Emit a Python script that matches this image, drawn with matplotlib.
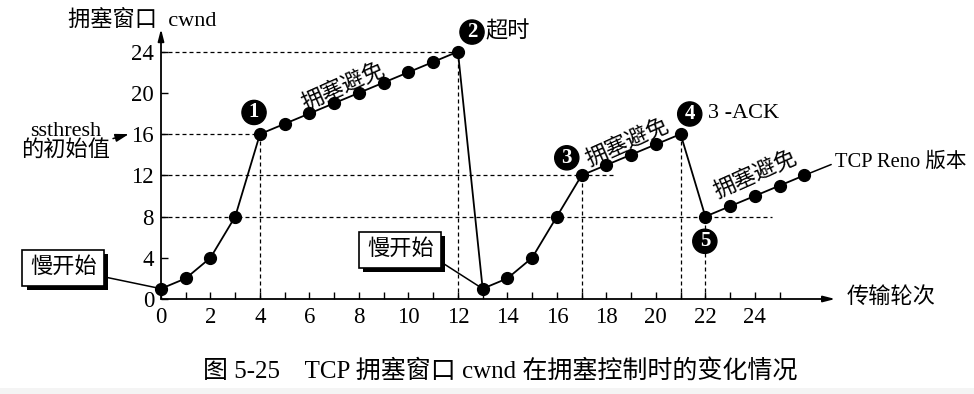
import matplotlib
matplotlib.use("Agg")
import matplotlib.pyplot as plt
import matplotlib.patheffects as pe

plt.rcParams['font.family'] = ['Liberation Serif', 'Noto Sans CJK SC', 'DejaVu Sans']

# ---- data ----
rounds = list(range(27))
cwnd = [1, 2, 4, 8, 16, 17, 18, 19, 20, 21, 22, 23, 24,
        1, 2, 4, 8, 12, 13, 14, 15, 16,
        8, 9, 10, 11, 12]
xtick_vals = list(range(0, 26))
xtick_labels = [str(v) if v % 2 == 0 and v <= 24 else "" for v in xtick_vals]
ytick_vals = [0, 4, 8, 12, 16, 20, 24]
ytick_labels = [str(v) for v in ytick_vals]

# guide lines: (value, x_start, x_end)
h_guides = [(24, 0, 12), (16, 0, 4), (12, 0, 18.3), (8, 0, 24.7)]
# vertical guides at rounds (index into data)
v_guides = [4, 12, 17, 21, 22]

fig = plt.figure(figsize=(9.74, 3.94), dpi=100)
W, H = 974, 394
ax = fig.add_axes([161 / W, 95 / H, 673 / W, 269 / H])
ax.set_xlim(0, 27.2)
ax.set_ylim(0, 26.1)
for s in ax.spines.values():
    s.set_visible(False)

dash = (0, (3.2, 2.4))
for y, x0, x1 in h_guides:
    ax.plot([x0, x1], [y, y], color='black', lw=0.9, linestyle=dash, zorder=1)
for r in v_guides:
    ax.plot([r, r], [0, cwnd[r]], color='black', lw=0.9, linestyle=dash, zorder=1)

# axes with arrows
ax.annotate('', xy=(27.25, 0), xytext=(0, 0), annotation_clip=False,
            arrowprops=dict(arrowstyle='-|>,head_length=0.7,head_width=0.18',
                            color='black', lw=1.3, shrinkA=0, shrinkB=0))
ax.annotate('', xy=(0, 26.2), xytext=(0, 0), annotation_clip=False,
            arrowprops=dict(arrowstyle='-|>,head_length=0.7,head_width=0.18',
                            color='black', lw=1.3, shrinkA=0, shrinkB=0))

# main line
ax.plot(rounds, cwnd, color='black', lw=1.3, marker='o', markersize=8.5,
        clip_on=False, zorder=3)

ax.set_xticks(xtick_vals)
ax.set_xticklabels(xtick_labels)
ax.set_yticks(ytick_vals)
ax.set_yticklabels(ytick_labels)
ax.tick_params(axis='x', direction='in', length=5, width=1, pad=6, labelsize=16.5)
ax.tick_params(axis='y', direction='in', length=5, width=1, pad=5, labelsize=16.5)

FS = 16

# axis titles
ax.text(-0.75, 27.0, '拥塞窗口  cwnd', ha='center', va='center', fontsize=FS, clip_on=False)
ax.text(27.7, 0.1, '传输轮次', ha='left', va='center', fontsize=FS, clip_on=False)

# ssthresh annotation
ax.annotate('ssthresh\n的初始值', xy=(-1.3, 16), xytext=(-3.85, 15.3),
            ha='center', va='center', fontsize=FS, linespacing=0.95,
            annotation_clip=False,
            arrowprops=dict(arrowstyle='-|>,head_length=0.5,head_width=0.15',
                            color='black', lw=1.1, relpos=(1.0, 0.55),
                            shrinkA=0, shrinkB=0))


def slow_box(tx, ty, px, py):
    ann = ax.annotate('慢开始', xy=(px, py), xytext=(tx, ty), ha='center', va='center',
                      fontsize=FS, annotation_clip=False, zorder=5,
                      bbox=dict(boxstyle='square,pad=0.34', fc='white', ec='black', lw=1.2),
                      arrowprops=dict(arrowstyle='-', color='black', lw=1.1,
                                      relpos=(1.0, 0.15), shrinkA=0, shrinkB=3))
    ann.get_bbox_patch().set_path_effects(
        [pe.SimplePatchShadow(offset=(3, -3), shadow_rgbFace='black', alpha=1.0),
         pe.Normal()])


slow_box(-3.95, 3.0, rounds[0], cwnd[0])
slow_box(9.67, 4.75, rounds[13], cwnd[13])


def circ(x, y, s):
    ax.text(x, y, s, ha='center', va='center', fontsize=15, color='white',
            fontweight='bold', clip_on=False, zorder=6,
            bbox=dict(boxstyle='circle,pad=0.1', fc='black', ec='black'))


circ(3.76, 18.1, '1')
circ(12.57, 25.9, '2')
circ(16.4, 13.7, '3')
circ(21.37, 17.95, '4')
circ(21.98, 5.6, '5')

ax.text(13.1, 25.9, '超时', ha='left', va='center', fontsize=FS, clip_on=False)
ax.text(22.1, 17.95, '3 -ACK', ha='left', va='center', fontsize=FS, clip_on=False)

ax.text(7.4, 20.5, '拥塞避免', ha='center', va='center', fontsize=FS, rotation=24,
        rotation_mode='anchor', clip_on=False)
ax.text(18.85, 15.1, '拥塞避免', ha='center', va='center', fontsize=FS, rotation=24,
        rotation_mode='anchor', clip_on=False)
ax.text(24.05, 12.0, '拥塞避免', ha='center', va='center', fontsize=FS, rotation=24,
        rotation_mode='anchor', clip_on=False)

ax.annotate('TCP Reno 版本', xy=(rounds[-1], cwnd[-1]), xytext=(27.25, 13.3),
            ha='left', va='center', fontsize=14.8, annotation_clip=False,
            arrowprops=dict(arrowstyle='-', color='black', lw=1.1,
                            relpos=(0.0, 0.45), shrinkA=1, shrinkB=4))

fig.text(500 / W, 1 - 371 / H, '图 5-25    TCP 拥塞窗口 cwnd 在拥塞控制时的变化情况',
         ha='center', va='center', fontsize=18)

# light grey strip at bottom
fig.patches.append(plt.Rectangle((0, 0), 1, 6 / H, transform=fig.transFigure,
                                 fc='#f4f4f4', ec='none', zorder=0))

fig.savefig('out.png', dpi=100)
